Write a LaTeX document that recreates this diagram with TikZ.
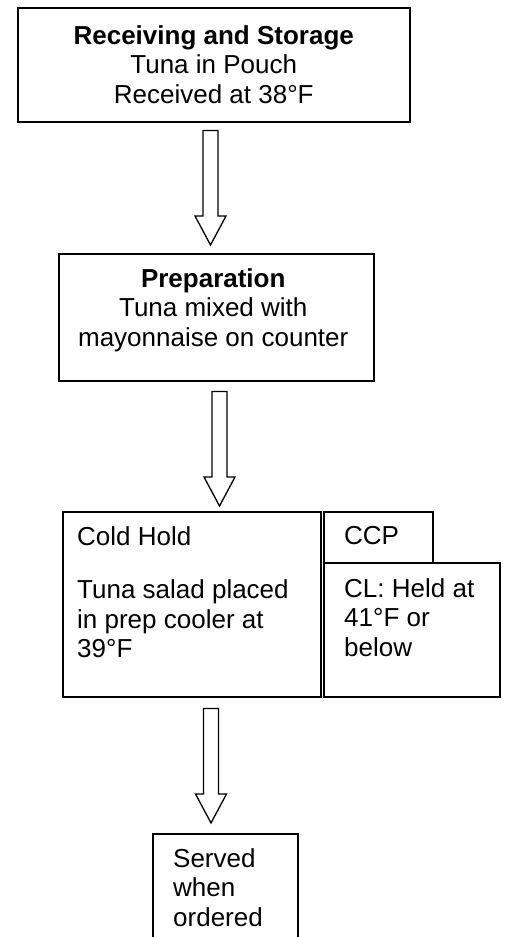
\documentclass[tikz,border=0pt]{standalone}
\usepackage{fontspec}
\setmainfont{Liberation Sans}
\usetikzlibrary{calc}

%% hollow block arrow from shaft top #1 down to tip #2
\newcommand{\hollowarrow}[2]{%
  \draw[blockarrow] ($(#1)+(-7.5,0)$) -- ($(#2)+(-7.5,29)$) -- ($(#2)+(-15.5,29)$)
    -- (#2) -- ($(#2)+(15.5,29)$) -- ($(#2)+(7.5,29)$) -- ($(#1)+(7.5,0)$) -- cycle;}

\begin{document}
\begin{tikzpicture}[x=1pt, y=1pt,
  box/.style={draw, line width=1.5pt, rectangle, anchor=north west, inner sep=0pt},
  txt/.style={inner sep=0pt, font=\fontsize{26}{29.5}\selectfont},
  blockarrow/.style={draw, line width=1.3pt, line join=miter, fill=white}]
  \useasboundingbox (0,0) rectangle (506,-937);
  %% process steps
  \node[box, minimum width=392pt, minimum height=114pt] (recv) at (17,-7) {};
  \node[box, minimum width=315pt, minimum height=127pt] (prep) at (58,-253) {};
  \node[box, minimum width=258pt, minimum height=185pt] (cold) at (62,-511) {};
  \node[box, minimum width=109pt, minimum height=51pt] (ccp) at (323,-511) {};
  \node[box, minimum width=176pt, minimum height=134pt] (crit) at (323,-562) {};
  \node[box, minimum width=145pt, minimum height=130pt] (serve) at (152,-833) {};
  %% texts
  \node[txt, anchor=north, align=center] (recvtxt) at ([yshift=-18pt]recv.north)
    {\textbf{Receiving and Storage}\\Tuna in Pouch\\Received at 38°F};
  \node[txt, anchor=north, align=center] (preptxt) at ([xshift=-3pt,yshift=-15pt]prep.north)
    {\textbf{Preparation}\\Tuna mixed with\\mayonnaise on counter};
  \node[txt, anchor=north west, align=left] (coldtxt) at ([xshift=15pt,yshift=-15pt]cold.north west)
    {Cold Hold\\[24pt]Tuna salad placed\\in prep cooler at\\39°F};
  \node[txt, anchor=north west] (ccptxt) at ([xshift=21pt,yshift=-15pt]ccp.north west) {CCP};
  \node[txt, anchor=north west, align=left] (crittxt) at ([xshift=21pt,yshift=-16pt]crit.north west)
    {CL: Held at\\41°F or\\below};
  \node[txt, anchor=north west, align=left] (servetxt) at ([xshift=21pt,yshift=-15pt]serve.north west)
    {Served\\when\\ordered};
  %% block arrows between steps
  \coordinate (a1s) at ($(recv.south -| 210.5,0)+(0,-8)$);
  \coordinate (a1e) at ($(prep.north -| 210.5,0)+(0,8)$);
  \coordinate (a2s) at ($(prep.south -| 219.5,0)+(0,-10)$);
  \coordinate (a2e) at ($(cold.north -| 219.5,0)+(0,5)$);
  \coordinate (a3s) at ($(cold.south -| 211,0)+(0,-11)$);
  \coordinate (a3e) at ($(serve.north -| 211,0)+(0,10)$);
  \hollowarrow{a1s}{a1e}
  \hollowarrow{a2s}{a2e}
  \hollowarrow{a3s}{a3e}
\end{tikzpicture}
\end{document}
